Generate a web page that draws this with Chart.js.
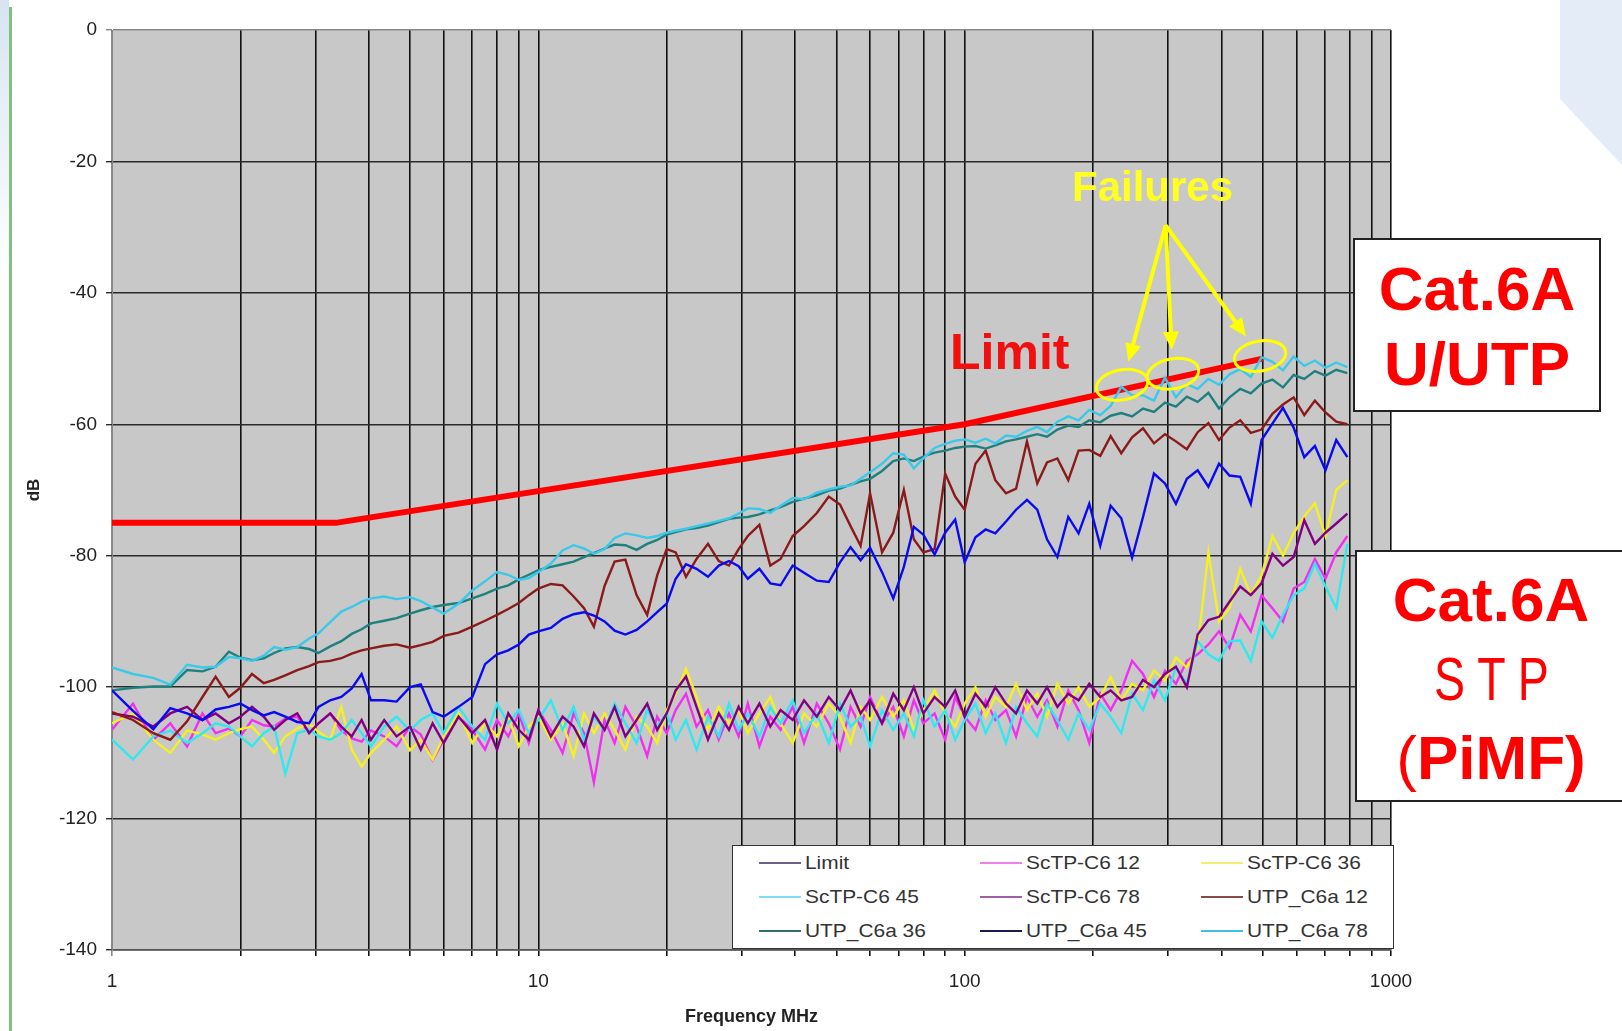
<!DOCTYPE html>
<html>
<head>
<meta charset="utf-8">
<title>Cat.6A alien crosstalk</title>
<script src="https://cdn.jsdelivr.net/npm/chart.js@4.4.1/dist/chart.umd.min.js"></script>
<style>
  body { margin: 0; background: #fff; font-family: "Liberation Sans", Arial, sans-serif; }
  #page { position: relative; width: 1622px; height: 1031px; overflow: hidden; background: #fff; }
  #chart { position: absolute; left: 0; top: 0; }
  .deco-left { position: absolute; left: 0; top: 0; width: 9px; height: 280px; background: linear-gradient(#d8e4f2, #fff); }
  .deco-green { position: absolute; left: 9px; top: 7px; width: 3px; height: 1024px; background: #7fc27f; }
  .deco-right { position: absolute; left: 1560px; top: 0; width: 62px; height: 165px; background: #e3ecf7;
                clip-path: polygon(0 0, 100% 0, 100% 100%, 0 60%); }
  .box { position: absolute; background: #fff; border: 2px solid #222; color: #ff0000; text-align: center;
         font-weight: bold; font-size: 62px; box-sizing: border-box; }
  #box1 { left: 1353px; top: 238px; width: 248px; height: 174px; padding-top: 11px; line-height: 75px; }
  #box2 { left: 1355px; top: 550px; width: 272px; height: 252px; padding-top: 8px; line-height: 79px; }
  .stp { display: inline-block; font-weight: normal; transform: scaleX(0.75); }
  .thin { font-weight: normal; }
  .note { position: absolute; font-weight: bold; white-space: nowrap; }
  #limitNote { left: 950px; top: 327px; font-size: 50px; line-height: 50px; color: #f01010; }
  #failNote { left: 1072px; top: 166px; font-size: 42px; line-height: 42px; color: #ffff22; }
  #legend { position: absolute; left: 732px; top: 845px; width: 662px; height: 104px; box-sizing: border-box;
            border: 1.5px solid #333; background: #fff; display: grid;
            grid-template-columns: 221px 221px 217px; grid-template-rows: 34px 34px 34px; }
  #legend .item { display: flex; align-items: center; padding-left: 26px; }
  #legend .swatch { width: 42px; height: 2px; margin-right: 4px; flex: none; }
  #legend .txt { display: inline-block; font-size: 19px; color: #333; white-space: nowrap;
                 transform: scaleX(1.1); transform-origin: left center; }
</style>
</head>
<body>
<div id="page">
  <div class="deco-left"></div>
  <div class="deco-green"></div>
  <div class="deco-right"></div>
  <canvas id="chart" width="1622" height="1031"></canvas>
  <div id="limitNote" class="note">Limit</div>
  <div id="failNote" class="note">Failures</div>
  <div id="legend"></div>
  <div id="box1" class="box">Cat.6A<br>U/UTP</div>
  <div id="box2" class="box">Cat.6A<br><span class="stp">S T P</span><br><span class="thin">(</span>PiMF)</div>
</div>
<script>
// frequency points shared by all measured series (MHz)
const FREQ_MHZ = [
  1, 1.12, 1.25, 1.37, 1.5, 1.63, 1.75, 1.88, 2, 2.13,
  2.27, 2.4, 2.55, 2.72, 2.9, 3.05, 3.25, 3.45, 3.65, 3.85,
  4.05, 4.35, 4.65, 5, 5.3, 5.65, 6, 6.5, 7, 7.5,
  8, 8.5, 9, 9.5, 10, 10.7, 11.4, 12.1, 12.8, 13.5,
  14.3, 15.1, 16, 17, 18, 19, 20, 21, 22.2, 23.5,
  25, 26.5, 28, 29.5, 31, 33, 35, 37, 39.5, 42,
  45, 48, 51, 54, 57, 60, 64, 68, 72, 76,
  80, 85, 90, 95, 100, 106, 112, 118, 125, 132,
  140, 148, 156, 165, 175, 185, 196, 208, 220, 233,
  247, 262, 278, 295, 313, 332, 352, 373, 395, 418,
  443, 469, 497, 527, 558, 591, 626, 663, 702, 744, 790
];

const LIMIT_FREQ = [1, 3.35, 100, 500];
const LIMIT_DB = [-75, -75, -60, -50];

const SCTP_C6_12 = [
  -106.5, -102.5, -108.0, -105.5, -109.0, -104.0, -107.0, -106.3, -107.5, -105.0,
  -105.8, -106.0, -104.8, -104.5, -107.0, -105.5, -104.0, -106.6, -107.8, -108.3,
  -106.6, -107.5, -109.0, -106.0, -107.2, -111.1, -108.0, -104.5, -106.5, -109.5,
  -105.0, -107.5, -104.0, -108.5, -103.5, -106.5, -110.0, -104.0, -107.0, -114.5,
  -105.0, -108.5, -103.0, -106.0, -110.5, -104.5, -107.0, -103.5, -101.0, -106.0,
  -103.5, -108.0, -104.0, -107.5, -102.5, -109.0, -104.5, -106.5, -103.0, -108.5,
  -102.5, -105.5, -109.5, -103.0, -106.0, -101.5, -105.5, -103.0, -107.5, -102.0,
  -105.5, -104.0, -108.0, -101.5, -104.5, -106.5, -102.0, -105.0, -103.5, -107.5,
  -101.5, -104.5, -102.0, -106.0, -100.5, -103.5, -108.5, -101.0, -103.5, -100.5,
  -96.0, -98.0, -101.5, -97.5, -99.5, -96.0, -95.0, -93.5, -91.5, -94.0,
  -89.0, -91.5, -86.0, -88.0, -90.0, -85.0, -84.0, -80.5, -83.5, -79.5, -77.0
];

const SCTP_C6_36 = [
  -105.5, -104.0, -108.0, -110.0, -106.6, -107.2, -108.0, -107.0, -106.4, -106.0,
  -108.0, -110.0, -107.5, -106.3, -105.5, -106.8, -108.0, -103.0, -109.5, -112.1,
  -110.0, -108.0, -106.0, -109.6, -108.0, -111.0, -107.5, -104.0, -108.5, -105.5,
  -107.5, -104.5, -109.0, -106.0, -104.5, -108.0, -105.5, -110.5, -104.0, -107.0,
  -104.0, -106.5, -109.5, -104.5, -106.0, -108.5, -103.5, -101.0, -97.2, -101.5,
  -106.5, -103.0, -105.5, -103.5, -107.0, -104.0, -101.5, -105.5, -108.5, -104.0,
  -106.0, -102.5, -104.5, -108.5, -103.0, -105.0, -101.5, -104.5, -102.0, -106.5,
  -103.5, -100.5, -104.0, -106.0, -102.5, -100.0, -104.5, -101.5, -103.0, -99.5,
  -103.5, -101.0, -104.5, -99.5, -102.5, -100.0, -103.0, -101.5, -98.5, -102.0,
  -99.5, -100.5, -97.5, -99.0, -95.5, -97.0, -94.0, -79.5, -90.0, -88.0,
  -82.0, -86.0, -83.0, -77.0, -80.0, -76.6, -74.0, -72.0, -77.0, -70.0, -68.5
];

const SCTP_C6_45 = [
  -108.0, -111.0, -107.5, -106.6, -108.5, -107.0, -105.5, -106.0, -107.5, -109.0,
  -107.0, -106.0, -113.2, -107.0, -106.5, -107.5, -108.0, -107.0, -105.0, -107.0,
  -109.0, -106.0, -104.5, -106.6, -105.0, -104.0, -107.0, -103.0, -106.0, -108.0,
  -102.5, -105.5, -103.5, -107.0, -105.0, -102.0, -106.5, -103.0, -108.0, -104.5,
  -106.5, -102.5, -105.5, -108.5, -103.5, -106.0, -104.0, -108.0, -105.0, -109.5,
  -104.5, -107.5, -102.5, -106.5, -104.0, -107.5, -103.0, -105.5, -102.0, -107.0,
  -104.0, -108.5, -102.5, -106.0, -104.5, -109.0, -103.5, -106.5, -104.0, -107.5,
  -102.0, -106.0, -103.5, -108.0, -105.0, -102.5, -107.0, -104.0, -108.5, -103.0,
  -105.5, -107.5, -102.5, -105.0, -108.0, -104.0, -106.5, -102.5, -104.5, -107.0,
  -101.0, -103.5, -99.0, -102.0, -97.0, -99.5, -93.0, -95.0, -96.0, -93.0,
  -92.9, -96.0, -90.0, -92.5, -89.0, -86.0, -85.0, -81.2, -84.7, -88.0, -78.2
];

const SCTP_C6_78 = [
  -104.0, -104.5, -106.0, -104.0, -103.0, -105.0, -104.0, -105.5, -104.5, -103.0,
  -104.5, -106.5, -105.0, -104.0, -107.0, -105.5, -104.0, -106.0, -107.5, -105.0,
  -108.0, -105.0, -107.5, -106.0, -109.5, -105.5, -108.5, -104.5, -107.0, -105.0,
  -109.5, -104.0, -106.5, -108.0, -103.5, -107.5, -104.5, -106.0, -109.0, -104.0,
  -106.5, -103.0, -107.5, -105.0, -102.5, -106.5, -104.0, -100.5, -98.4, -103.0,
  -108.0, -104.0, -106.5, -103.0, -105.5, -102.5, -106.0, -103.5, -105.0, -102.0,
  -104.5, -101.5, -103.5, -100.5, -104.0, -102.0, -105.5, -101.0, -103.5, -100.0,
  -104.0, -101.5, -103.0, -100.5, -104.5, -101.0, -103.0, -100.0, -102.5, -104.0,
  -100.5, -102.5, -100.0, -103.0, -101.0, -102.0, -99.5, -101.5, -100.5, -102.0,
  -101.5, -98.9, -100.0, -98.0, -96.9, -100.0, -92.0, -89.8, -89.3, -87.0,
  -84.7, -86.0, -84.2, -79.7, -81.5, -80.2, -74.6, -78.2, -76.5, -75.1, -73.6
];

const UTP_C6A_12 = [
  -103.8, -105.0, -107.0, -108.0, -105.2, -101.5, -98.4, -101.5, -100.1, -98.0,
  -99.4, -98.9, -98.2, -97.4, -96.8, -96.2, -96.0, -95.6, -94.9, -94.4,
  -94.1, -93.7, -93.5, -94.0, -93.6, -93.1, -92.2, -91.7, -90.8, -89.9,
  -89.0, -88.1, -87.2, -86.0, -85.0, -84.3, -84.5, -86.2, -88.0, -90.8,
  -84.6, -80.9, -80.6, -86.0, -89.0, -83.0, -79.0, -79.5, -83.2, -80.5,
  -78.2, -80.8, -81.5, -79.0, -77.0, -75.3, -81.5, -80.5, -77.0, -75.5,
  -73.5, -71.0, -72.2, -75.5, -78.5, -70.5, -79.5, -76.5, -70.0, -77.5,
  -79.5, -79.0, -67.5, -71.0, -73.0, -66.0, -64.0, -68.5, -70.5, -69.8,
  -62.6, -69.0, -65.8, -65.2, -68.5, -64.0, -63.9, -64.8, -61.8, -64.4,
  -62.0, -60.6, -62.9, -61.5, -62.6, -63.8, -61.2, -59.8, -62.4, -60.5,
  -59.4, -61.3, -60.8, -58.4, -57.0, -55.9, -58.6, -56.4, -58.2, -59.6, -60.0
];

const UTP_C6A_36 = [
  -100.5, -100.1, -99.9, -99.9, -97.4, -97.6, -96.9, -94.6, -95.5, -95.9,
  -95.6, -94.8, -94.1, -93.9, -94.2, -94.8, -93.8, -93.0, -91.9, -91.2,
  -90.3, -89.9, -89.5, -88.8, -88.3, -87.8, -87.5, -87.2, -86.5, -85.8,
  -85.0, -84.5, -83.6, -82.9, -82.2, -81.7, -81.3, -80.9, -80.2, -79.6,
  -78.9, -78.3, -78.4, -79.1, -78.2, -77.6, -76.8, -76.4, -76.0, -75.8,
  -75.4, -74.9, -74.4, -74.2, -74.1, -73.7, -73.1, -72.6, -71.8, -71.3,
  -70.8, -70.1, -69.8, -69.2, -68.7, -68.3, -67.1, -65.6, -65.2, -65.6,
  -64.9, -64.3, -64.0, -63.6, -63.4, -63.3, -63.7, -63.2, -62.6, -62.3,
  -61.9, -61.5, -61.9, -60.8, -60.2, -60.4, -59.4, -59.7, -58.7, -58.3,
  -58.8, -57.6, -58.1, -56.7, -57.3, -55.8, -56.6, -55.2, -57.6, -55.9,
  -54.6, -55.3, -53.8, -53.2, -54.4, -52.5, -53.1, -51.9, -52.6, -51.7, -52.2
];

const UTP_C6A_45 = [
  -100.5, -103.6, -106.4, -103.2, -104.0, -105.0, -103.4, -103.0, -102.5, -103.5,
  -104.3, -103.8, -104.5, -105.3, -105.5, -103.0, -102.0, -101.5, -100.2, -98.0,
  -102.0, -102.0, -102.2, -100.0, -99.6, -103.8, -104.5, -103.0, -101.5, -96.5,
  -95.0, -94.4, -93.5, -92.0, -91.5, -91.0, -89.6, -88.9, -88.6, -89.1,
  -90.0, -91.4, -92.0, -91.3, -90.0, -88.6, -87.3, -83.5, -81.3, -82.0,
  -83.2, -81.5, -80.8, -81.6, -83.5, -82.0, -84.2, -84.5, -81.5, -82.6,
  -83.8, -84.0, -81.0, -78.7, -80.7, -78.8, -82.5, -86.5, -81.7, -75.6,
  -76.8, -79.8, -76.5, -74.5, -81.0, -77.2, -76.0, -76.6, -74.8, -73.0,
  -71.5, -73.0, -77.5, -80.2, -74.1, -76.6, -72.1, -78.5, -72.4, -74.3,
  -80.3, -74.1, -67.5, -69.0, -72.1, -68.3, -67.0, -69.5, -66.0, -67.8,
  -68.0, -72.1, -62.4, -59.9, -57.5, -60.5, -65.0, -63.3, -67.0, -62.4, -65.0
];

const UTP_C6A_78 = [
  -97.0, -98.0, -98.6, -99.6, -96.6, -97.0, -96.9, -95.4, -95.6, -96.0,
  -95.2, -93.9, -94.3, -93.9, -92.6, -91.8, -90.1, -88.5, -87.8, -87.0,
  -86.5, -86.2, -86.6, -86.3, -86.9, -87.9, -88.8, -87.3, -85.3, -83.9,
  -82.5, -82.9, -83.7, -83.4, -82.5, -81.2, -79.2, -78.4, -78.9, -79.7,
  -79.0, -77.3, -76.6, -76.9, -77.3, -77.0, -76.5, -76.2, -75.9, -75.5,
  -75.1, -74.7, -74.3, -73.6, -72.8, -72.9, -73.5, -72.4, -71.2, -71.4,
  -70.4, -69.9, -69.5, -69.3, -68.3, -67.3, -66.0, -64.4, -64.6, -66.7,
  -65.2, -63.6, -63.0, -62.5, -62.3, -62.8, -62.2, -62.9, -61.7, -61.9,
  -61.0, -60.4, -61.2, -59.6, -58.8, -59.4, -57.8, -58.6, -57.2, -54.3,
  -55.6, -55.6, -56.4, -52.9, -55.9, -53.9, -54.6, -53.1, -54.0, -52.4,
  -51.6, -52.8, -49.8, -50.5, -51.8, -49.7, -51.1, -50.3, -51.4, -50.6, -51.3
];

const X_TICKS = [1, 2, 3, 4, 5, 6, 7, 8, 9, 10, 20, 30, 40, 50, 60, 70, 80, 90,
                 100, 200, 300, 400, 500, 600, 700, 800, 900, 1000];
const X_LABELS = [1, 10, 100, 1000];

// where the limit line is exceeded, and where the "Failures" arrows start
const FAILURE_FREQ = [234, 308, 493];
const FAILURE_DB = [-54.0, -52.3, -49.6];
const ARROW_APEX = [296, -29.7];

const SERIES = [
  { label: 'Limit',        data: null,        color: '#ff0000', legend: '#6c5f8f' },
  { label: 'ScTP-C6 12',   data: SCTP_C6_12,  color: '#f030f0', legend: '#ee80e8' },
  { label: 'ScTP-C6 36',   data: SCTP_C6_36,  color: '#f5f022', legend: '#f2ee70' },
  { label: 'ScTP-C6 45',   data: SCTP_C6_45,  color: '#30e8f0', legend: '#80dcef' },
  { label: 'ScTP-C6 78',   data: SCTP_C6_78,  color: '#800080', legend: '#a060a8' },
  { label: 'UTP_C6a 12',   data: UTP_C6A_12,  color: '#8b1a1a', legend: '#8a4a4a' },
  { label: 'UTP_C6a 36',   data: UTP_C6A_36,  color: '#1f8080', legend: '#2f6f6f' },
  { label: 'UTP_C6a 45',   data: UTP_C6A_45,  color: '#0a0aee', legend: '#1a1a50' },
  { label: 'UTP_C6a 78',   data: UTP_C6A_78,  color: '#3cc8e8', legend: '#40c0e0' }
];

const datasets = SERIES.map((s, i) => {
  if (i === 0) {
    return {
      label: s.label,
      data: LIMIT_FREQ.map((f, k) => ({ x: f, y: LIMIT_DB[k] })),
      borderColor: s.color,
      borderWidth: 6,
      order: 20
    };
  }
  return {
    label: s.label,
    data: FREQ_MHZ.map((f, k) => ({ x: f, y: s.data[k] })),
    borderColor: s.color,
    borderWidth: 2.4,
    order: 10 - i
  };
});

const plotBackground = {
  id: 'plotBackground',
  beforeDraw(chart) {
    const { ctx, chartArea: a } = chart;
    ctx.save();
    ctx.fillStyle = '#c8c8c8';
    ctx.fillRect(a.left, a.top, a.right - a.left, a.bottom - a.top);
    ctx.restore();
  }
};

const failureMarks = {
  id: 'failureMarks',
  afterDraw(chart) {
    const { ctx, scales: { x, y } } = chart;
    const ax = x.getPixelForValue(ARROW_APEX[0]);
    const ay = y.getPixelForValue(ARROW_APEX[1]);
    ctx.save();
    ctx.strokeStyle = '#ffff00';
    ctx.fillStyle = '#ffff00';
    FAILURE_FREQ.forEach((f, i) => {
      const cx = x.getPixelForValue(f);
      const cy = y.getPixelForValue(FAILURE_DB[i]);
      ctx.lineWidth = 3;
      ctx.beginPath();
      ctx.ellipse(cx, cy, 26, 15, -0.18, 0, Math.PI * 2);
      ctx.stroke();

      const dx = ax - cx, dy = ay - cy;
      const len = Math.hypot(dx, dy);
      const ux = dx / len, uy = dy / len;
      const tx = cx + ux * 24, ty = cy + uy * 24;
      ctx.lineWidth = 4;
      ctx.beginPath();
      ctx.moveTo(ax, ay);
      ctx.lineTo(tx + ux * 12, ty + uy * 12);
      ctx.stroke();
      ctx.beginPath();
      ctx.moveTo(tx, ty);
      ctx.lineTo(tx + ux * 18 - uy * 8, ty + uy * 18 + ux * 8);
      ctx.lineTo(tx + ux * 18 + uy * 8, ty + uy * 18 - ux * 8);
      ctx.closePath();
      ctx.fill();
    });
    ctx.restore();
  }
};

new Chart(document.getElementById('chart'), {
  type: 'line',
  data: { datasets },
  plugins: [plotBackground, failureMarks],
  options: {
    responsive: false,
    animation: false,
    layout: { padding: { top: 30, right: 231, left: 0, bottom: 0 } },
    plugins: { legend: { display: false }, tooltip: { enabled: false } },
    elements: { point: { radius: 0 }, line: { tension: 0 } },
    scales: {
      x: {
        type: 'logarithmic',
        min: 1,
        max: 1000,
        afterBuildTicks(scale) { scale.ticks = X_TICKS.map(v => ({ value: v })); },
        afterFit(scale) { scale.height = 81; },
        ticks: {
          autoSkip: false,
          maxRotation: 0,
          padding: 14,
          color: '#222',
          font: { family: 'Liberation Sans', size: 19 },
          callback: v => (X_LABELS.includes(v) ? String(v) : '')
        },
        grid: {
          color: c => (c.tick && c.tick.value === 1 ? '#8a8a8a' : '#111'),
          lineWidth: 1.6,
          tickLength: 6
        },
        border: { color: '#555', width: 1.5 },
        title: {
          display: true,
          text: 'Frequency MHz',
          color: '#222',
          font: { family: 'Liberation Sans', size: 18, weight: 'bold' },
          padding: { top: 0, bottom: 3 }
        }
      },
      y: {
        min: -140,
        max: 0,
        afterFit(scale) { scale.width = 112; },
        ticks: {
          stepSize: 20,
          padding: 9,
          color: '#222',
          font: { family: 'Liberation Sans', size: 19 }
        },
        grid: {
          color: c => (c.tick && c.tick.value === 0 ? '#888' : '#2a2a2a'),
          lineWidth: 1.4,
          tickLength: 6
        },
        border: { color: '#888', width: 1 },
        title: {
          display: true,
          text: 'dB',
          color: '#222',
          font: { family: 'Liberation Sans', size: 17, weight: 'bold' },
          padding: { top: 24, bottom: 0 }
        }
      }
    }
  }
});

const legendEl = document.getElementById('legend');
SERIES.forEach(s => {
  const item = document.createElement('div');
  item.className = 'item';
  item.innerHTML = `<span class="swatch" style="background:${s.legend}"></span><span class="txt">${s.label}</span>`;
  legendEl.appendChild(item);
});
</script>
</body>
</html>
